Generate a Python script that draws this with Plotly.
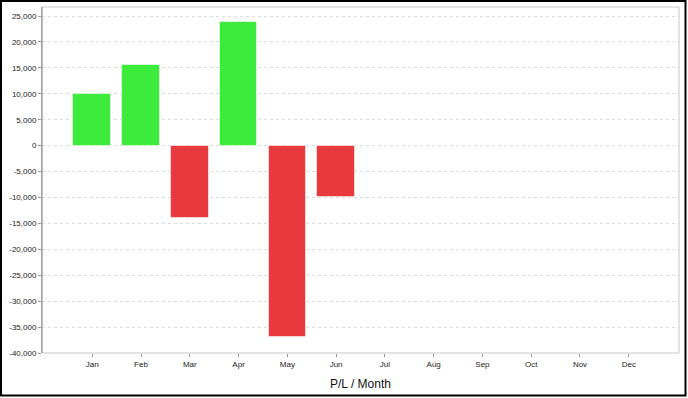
import plotly.graph_objects as go

months = ["Jan", "Feb", "Mar", "Apr", "May", "Jun", "Jul", "Aug", "Sep", "Oct", "Nov", "Dec"]
pl_values = [10000, 15600, -13900, 23800, -36900, -10000, None, None, None, None, None, None]
tick_vals = list(range(-40000, 25001, 5000))
tick_text = [f"{v:,}" for v in tick_vals]

GREEN = "#3DEB3C"
RED = "#E8393E"
colors = [GREEN if (v is not None and v >= 0) else RED for v in pl_values]

fig = go.Figure(go.Bar(
    x=list(range(len(months))), y=pl_values,
    marker=dict(color=colors, line=dict(color="rgba(255,255,255,0.55)", width=1)),
    width=0.77,
))

L, R, T, B = 42, 9, 7, 45.4
W, H = 688, 398
pw = W - L - R
ph = H - T - B

fig.update_layout(
    width=W, height=H,
    margin=dict(l=L, r=R, t=T, b=B, pad=0),
    paper_bgcolor="white", plot_bgcolor="white",
    showlegend=False,
    font=dict(family="Liberation Sans, Arial, sans-serif", size=8, color="#222"),
    bargap=0,
    xaxis=dict(
        tickmode="array", tickvals=list(range(len(months))), ticktext=months,
        range=[-1.03, 12.03], showgrid=False, zeroline=False,
        showline=False, ticks="outside", ticklen=3, tickcolor="#999",
        tickfont=dict(size=8, color="#222"),
        title=dict(text="P/L / Month", font=dict(size=12, color="#111"), standoff=12),
        fixedrange=True,
    ),
    yaxis=dict(
        range=[-40000, 26750], tickmode="array", tickvals=tick_vals, ticktext=tick_text,
        showgrid=True, gridcolor="#dcdcdc", griddash="3px,3px", gridwidth=1,
        zeroline=False, showline=True, linecolor="#9a9a9a", linewidth=1,
        ticks="outside", ticklen=3, tickcolor="#999",
        tickfont=dict(size=8, color="#222"),
        fixedrange=True,
    ),
)

# plot area border (light gray, top/right/bottom)
fig.add_shape(type="rect", xref="paper", yref="paper", x0=0, y0=0, x1=1, y1=1,
              line=dict(color="#c8c8c8", width=1), fillcolor="rgba(0,0,0,0)", layer="above")
# left axis line darker over the border
fig.add_shape(type="line", xref="paper", yref="paper", x0=0, y0=0, x1=0, y1=1,
              line=dict(color="#9a9a9a", width=1), layer="above")

# outer black frame around the whole chart
def px_x(px):
    return (px - L) / pw

def px_y(py):
    return (H - B - py) / ph

fig.add_shape(type="rect", xref="paper", yref="paper",
              x0=px_x(1), x1=px_x(685.5), y0=px_y(395), y1=px_y(1),
              line=dict(color="black", width=2), fillcolor="rgba(0,0,0,0)", layer="above")

fig.write_html("out.html")
